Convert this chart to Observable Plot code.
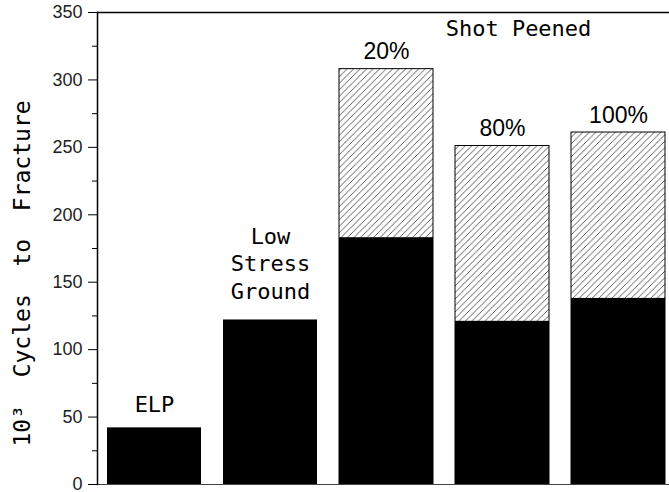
<!DOCTYPE html>
<html>
<head>
<meta charset="utf-8">
<script src="https://cdn.jsdelivr.net/npm/d3@7"></script>
<script src="https://cdn.jsdelivr.net/npm/@observablehq/plot@0.6"></script>
<style>
  html, body { margin: 0; padding: 0; background: #fff; }
</style>
</head>
<body>
<div id="chart"></div>
<script>
// ---- data ----
const categories = ["ELP", "Low Stress Ground", "20%", "80%", "100%"];
const baseValues = [42, 122, 183, 121, 138];          // black (solid) portion
const totalValues = [null, null, 308, 251, 261];      // hatched top (total)
const catLabels = ["ELP", "Low\nStress\nGround", "20%", "80%", "100%"];
const yTicks = [0, 50, 100, 150, 200, 250, 300, 350];
const yMinorTicks = [25, 75, 125, 175, 225, 275, 325];
const groupLabel = "Shot Peened";
const yLabel = "10³\u00a0\u00a0Cycles\u00a0\u00a0to\u00a0\u00a0Fracture";

const rows = categories.map((c, i) => ({
  cat: c, base: baseValues[i], total: totalValues[i], label: catLabels[i],
  top: totalValues[i] ?? baseValues[i]
}));
const hatched = rows.filter(d => d.total != null);
const elpLabel = rows.filter(d => d.cat === "ELP");
const groundLabel = rows.filter(d => d.cat === "Low Stress Ground");
const pctLabels = rows.filter(d => d.total != null);

const mono = "'DejaVu Sans Mono', monospace";
const sans = "'Liberation Sans', Arial, sans-serif";

const chart = Plot.plot({
  width: 669,
  height: 492,
  marginTop: 12,
  marginBottom: 8,
  marginLeft: 97,
  marginRight: 0,
  style: { fontFamily: sans, fontSize: "18px", color: "#000", background: "#fff" },
  x: { domain: categories, range: [97, 675], paddingInner: 0.19, paddingOuter: 0.086, axis: null },
  y: { domain: [0, 350], axis: null },
  marks: [
    Plot.barY(hatched, { x: "cat", y: "total", fill: "url(#hatch)", stroke: "#000", strokeWidth: 1 }),
    Plot.barY(rows, { x: "cat", y: "base", fill: "#000" }),
    Plot.ruleY([350], { stroke: "#000", strokeWidth: 1.5 }),
    Plot.ruleY([0], { stroke: "#444", strokeWidth: 1 }),
    Plot.frame({ anchor: "left", stroke: "#000", strokeWidth: 1.5 }),
    Plot.axisY(yTicks, { tickSize: 9, tickPadding: 6, fontSize: 18, letterSpacing: 2, label: null, stroke: "#000", fill: "#222" }),
    Plot.axisY(yMinorTicks, { tickSize: 5, text: null, label: null, stroke: "#000" }),
    // category labels (monospace)
    Plot.text(elpLabel, { x: "cat", y: "top", text: "label", lineAnchor: "bottom", dy: -16,
      fontFamily: mono, fontSize: 22, letterSpacing: 2, fill: "#000" }),
    Plot.text(groundLabel, { x: "cat", y: "top", text: "label", lineAnchor: "bottom", lineHeight: 1.25, dy: -21,
      fontFamily: mono, fontSize: 22, letterSpacing: 2, fill: "#000" }),
    // percent labels
    Plot.text(pctLabels, { x: "cat", y: "top", text: "label", lineAnchor: "bottom", dy: -10,
      fontFamily: sans, fontSize: 23, fill: "#000" }),
    // group label
    Plot.text([groupLabel], { x: () => "80%", y: () => 350, text: d => d, lineAnchor: "bottom", dx: 16, dy: 23,
      fontFamily: mono, fontSize: 22, letterSpacing: 3, fill: "#000" }),
    // y-axis title
    Plot.text([yLabel], { frameAnchor: "left", textAnchor: "middle", text: d => d, rotate: -90, dx: -75, dy: 25,
      fontFamily: mono, fontSize: 23, letterSpacing: 0.5, fill: "#000" })
  ]
});

// hatch pattern definition ("/" diagonals)
const ns = "http://www.w3.org/2000/svg";
const defs = document.createElementNS(ns, "defs");
const pat = document.createElementNS(ns, "pattern");
pat.setAttribute("id", "hatch");
pat.setAttribute("patternUnits", "userSpaceOnUse");
pat.setAttribute("width", "6.5");
pat.setAttribute("height", "6.5");
const bg = document.createElementNS(ns, "rect");
bg.setAttribute("width", "6.5"); bg.setAttribute("height", "6.5"); bg.setAttribute("fill", "#fff");
pat.appendChild(bg);
const p = document.createElementNS(ns, "path");
p.setAttribute("d", "M-1,1 L1,-1 M0,6.5 L6.5,0 M5.5,7.5 L7.5,5.5");
p.setAttribute("stroke", "#333");
p.setAttribute("stroke-width", "0.8");
pat.appendChild(p);
defs.appendChild(pat);
chart.insertBefore(defs, chart.firstChild);

document.getElementById("chart").appendChild(chart);
</script>
</body>
</html>
